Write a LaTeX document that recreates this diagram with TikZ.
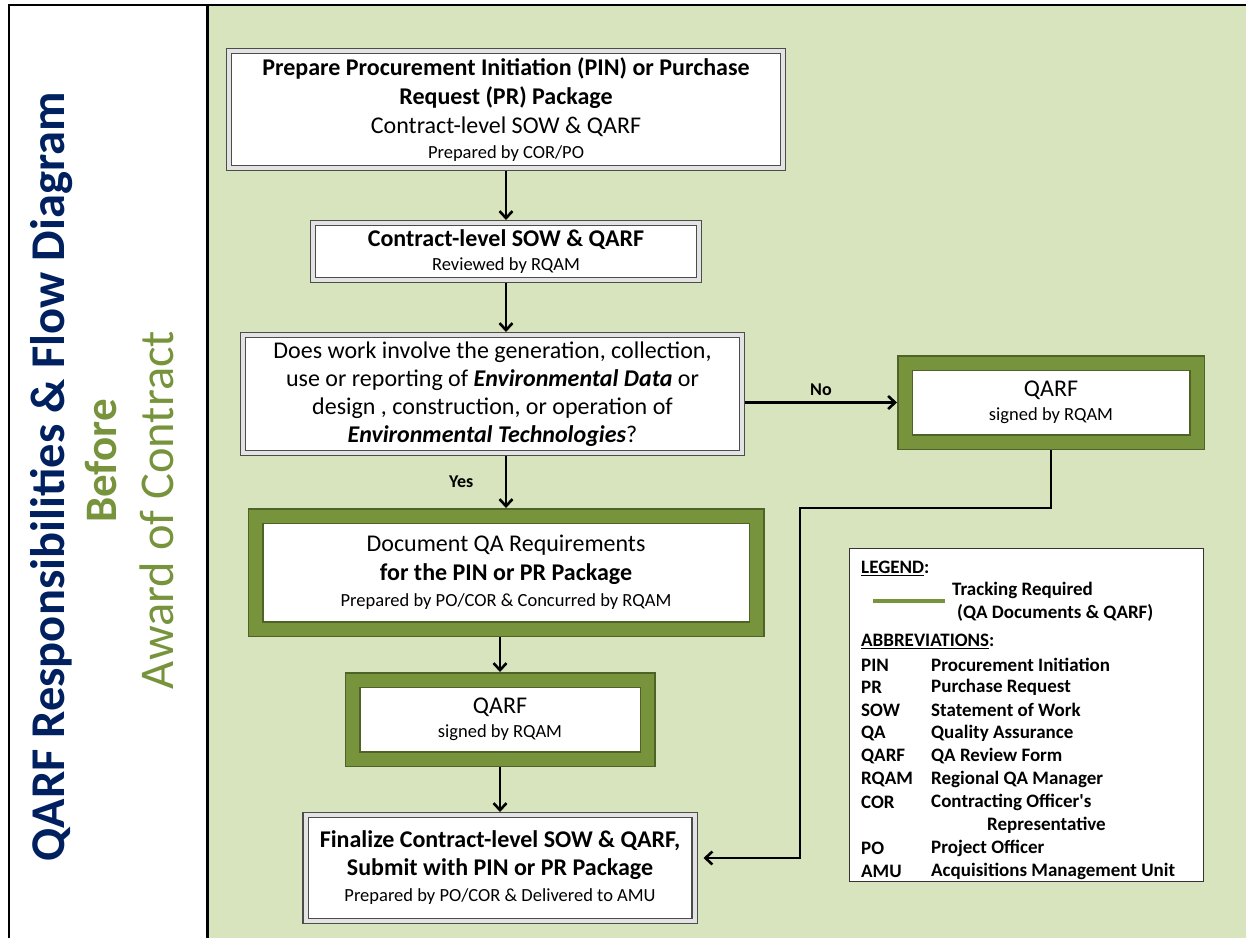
\documentclass[tikz,border=0pt]{standalone}
\usepackage{fontspec}
\setmainfont{Carlito}
\usepackage{tikz}
\usetikzlibrary{arrows.meta,positioning,calc}
\definecolor{bgolive}{HTML}{D7E4BD}
\definecolor{olive}{HTML}{77933C}
\definecolor{darkolive}{HTML}{4F6228}
\definecolor{navyblue}{HTML}{002060}
\newcommand{\fsz}[2]{\fontsize{#1}{#2}\selectfont}

\begin{document}
\begin{tikzpicture}[
  x=1pt, y=-1pt,
  plainbox/.style={rectangle, draw=black!70, line width=1.2pt, double=gray!22,
                   double distance=4pt, fill=white, outer sep=3pt, inner sep=0pt,
                   align=center, font=\fsz{24}{29}},
  greenbox/.style={rectangle, draw=darkolive, line width=1.5pt, double=olive,
                   double distance=13pt, fill=white, outer sep=8pt, inner sep=0pt,
                   align=center, font=\fsz{24}{29}},
  arr/.style={-{Straight Barb[length=7pt,width=13pt]}, line width=2.6pt},
  lbl/.style={font=\bfseries\fsz{18}{20}},
  lgd/.style={anchor=west, inner sep=0pt, font=\bfseries\fsz{19}{23}}
]
\useasboundingbox (0,0) rectangle (1246,938);

% panels
\fill[bgolive] (207,5) rectangle (1246,938);
\draw[line width=2pt] (9,938) -- (9,5) -- (1246,5);
\draw[line width=3pt] (207,5) -- (207,938);

% side titles
\node[rotate=90, font=\bfseries\fsz{48.5}{50}, text=navyblue] (title) at (52,477) {QARF Responsibilities \& Flow Diagram};
\node[rotate=90, font=\bfseries\fsz{45}{48}, text=olive] (before) at (101,461) {Before};
\node[rotate=90, font=\fsz{48.5}{50}, text=olive] (award) at (157,510) {Award of Contract};

% flow boxes
\node[plainbox, minimum width=554pt, minimum height=117pt] (prep) at (506,109.5)
  {\textbf{Prepare Procurement Initiation (PIN) or Purchase}\\\textbf{Request (PR) Package}\\Contract-level SOW \& QARF\\[-4pt]{\fsz{18.5}{20}Prepared by COR/PO}};
\node[plainbox, minimum width=386pt, minimum height=57pt] (review) at (506,251.5)
  {\textbf{Contract-level SOW \& QARF}\\[-5pt]{\fsz{18.5}{20}Reviewed by RQAM}};
\node[plainbox, minimum width=499pt, minimum height=118pt, font=\fsz{24}{28}] (decide) at (492.5,394)
  {Does work involve the generation, collection,\\use or reporting of \textbf{\textit{Environmental Data}} or\\design , construction, or operation of\\\textbf{\textit{Environmental Technologies}}?};
\node[greenbox, minimum width=292pt, minimum height=79pt] (qarfr) at (1051,402.5)
  {QARF\\[-5pt]{\fsz{18.5}{20}signed by RQAM}};
\node[greenbox, minimum width=501pt, minimum height=113pt] (docqa) at (506,572.5)
  {Document QA Requirements\\\textbf{for the PIN or PR Package}\\[-3pt]{\fsz{18.5}{20}Prepared by PO/COR \& Concurred by RQAM}};
\node[greenbox, minimum width=295pt, minimum height=79pt] (signed) at (500,719.5)
  {QARF\\[-5pt]{\fsz{18.5}{20}signed by RQAM}};
\node[plainbox, minimum width=389pt, minimum height=106pt, font=\fsz{24}{28}] (final) at (500,868)
  {\textbf{Finalize Contract-level SOW \& QARF,}\\\textbf{Submit with PIN or PR Package}\\[-2pt]{\fsz{18.5}{20}Prepared by PO/COR \& Delivered to AMU}};

% connectors
\coordinate (bend) at (800,508);
\draw[arr] (prep.south) -- (review.north);
\draw[arr] (review.south) -- (review.south |- decide.north);
\draw[arr] (decide.south -| review.south) -- node[lbl, left=28pt]{Yes} (docqa.north);
\draw[arr] (decide.east |- qarfr.west) -- node[lbl, above=2pt]{No} (qarfr.west);
\draw[arr] (docqa.south -| signed.north) -- (signed.north);
\draw[arr] (signed.south) -- (final.north);
\draw[arr, shorten >=6pt] (qarfr.south) |- (bend) |- ([yshift=10pt]final.east);

% legend
\node[draw=black!80, line width=1pt, fill=white, minimum width=354pt,
      minimum height=333pt, inner sep=0pt] (legend) at (1026,714.5) {};
\node[lgd] (lgdhead) at (861,568) {\underline{LEGEND}:};
\draw[olive, line width=4pt] (873,601) -- (945,601);
\node[lgd] (track) at (952,590) {Tracking Required};
\node[lgd] (trackdocs) at (957,613) {(QA Documents \& QARF)};
\node[lgd] (abbrhead) at (861,641) {\underline{ABBREVIATIONS}:};
\foreach \ab/\full/\yy in {PIN/Procurement Initiation/665, PR/Purchase Request/687,
    SOW/Statement of Work/710, QA/Quality Assurance/733, QARF/QA Review Form/756,
    RQAM/Regional QA Manager/779, COR/Contracting Officer\textquotesingle s/802,
    PO/Project Officer/848, AMU/Acquisitions Management Unit/871} {
  \node[lgd] (ab-\ab) at (861,\yy) {\ab};
  \node[lgd] (full-\ab) at (931,\yy) {\full};
}
\node[lgd] (full-rep) at (987,825) {Representative};
\end{tikzpicture}
\end{document}
